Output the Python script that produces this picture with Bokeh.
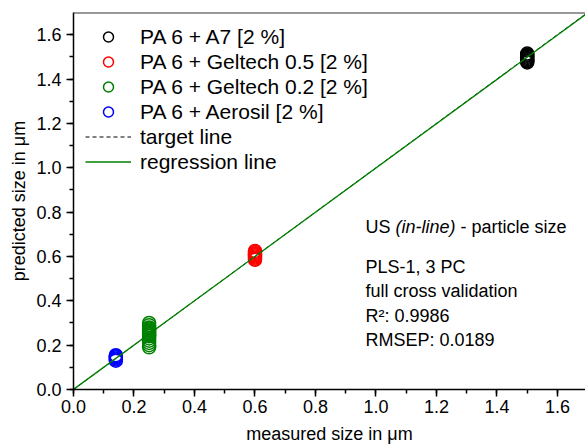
from bokeh.plotting import figure
from bokeh.models import Range1d, SingleIntervalTicker, Label, Span, Legend, LegendItem, PrintfTickFormatter
from bokeh.embed import file_html
from bokeh.resources import INLINE

# ---- data ----
a7_x = [1.5] * 9
a7_y = [1.475, 1.48, 1.485, 1.49, 1.495, 1.50, 1.505, 1.51, 1.515]

g05_x = [0.6] * 9
g05_y = [0.585, 0.59, 0.595, 0.60, 0.605, 0.61, 0.615, 0.62, 0.625]

g02_x = [0.25] * 16
g02_y = [0.19, 0.20, 0.21, 0.22, 0.23, 0.24, 0.245, 0.25, 0.255, 0.26,
         0.265, 0.27, 0.275, 0.28, 0.29, 0.30]

aer_x = [0.14] * 6
aer_y = [0.13, 0.135, 0.14, 0.145, 0.15, 0.155]

line_x = [0.0, 1.7]
target_y = [0.0, 1.7]
reg_slope = 0.9986
reg_intercept = 0.0005
reg_y = [reg_intercept + reg_slope * v for v in line_x]

series_names = ["PA 6 + A7 [2 %]", "PA 6 + Geltech 0.5 [2 %]",
                "PA 6 + Geltech 0.2 [2 %]", "PA 6 + Aerosil [2 %]"]
series_colors = ["#000000", "#ff0000", "#008000", "#0000ff"]

info_lines = ["PLS-1, 3 PC", "full cross validation", "R\u00b2: 0.9986", "RMSEP: 0.0189"]

FONT = "Liberation Sans"

p = figure(width=585, height=446, output_backend="svg", toolbar_location=None,
           x_range=Range1d(0, 1.6926), y_range=Range1d(0, 1.7),
           min_border_left=73, min_border_right=0, min_border_top=12, min_border_bottom=56)
p.grid.visible = False
p.outline_line_color = None
p.background_fill_color = "white"
p.border_fill_color = "white"

renderers = []
for xs, ys, c in [(a7_x, a7_y, series_colors[0]), (g05_x, g05_y, series_colors[1]),
                  (g02_x, g02_y, series_colors[2]), (aer_x, aer_y, series_colors[3])]:
    r = p.scatter(xs, ys, marker="circle", size=13, fill_color=None,
                  line_color=c, line_width=1.5)
    renderers.append(r)

r_target = p.line(line_x, target_y, line_color="black", line_dash="4 3", line_width=1)
r_reg = p.line(line_x, reg_y, line_color="#008000", line_width=1.3)

items = [LegendItem(label=n, renderers=[r]) for n, r in zip(series_names, renderers)]
items.append(LegendItem(label="target line", renderers=[r_target]))
items.append(LegendItem(label="regression line", renderers=[r_reg]))
legend = Legend(items=items, location="top_left", margin=12, padding=0,
                glyph_width=46, glyph_height=25, label_height=25, spacing=0,
                label_standoff=9, border_line_color=None, background_fill_alpha=0,
                label_text_font=FONT, label_text_font_size="21px", label_text_color="black")
p.add_layout(legend)

for ax in [p.xaxis[0], p.yaxis[0]]:
    ax.ticker = SingleIntervalTicker(interval=0.2, num_minor_ticks=2)
    ax.formatter = PrintfTickFormatter(format="%.1f")
    ax.major_tick_out = 7
    ax.major_tick_in = 0
    ax.minor_tick_out = 4
    ax.minor_tick_in = 0
    ax.axis_line_width = 1.5
    ax.axis_line_color = "black"
    ax.major_tick_line_color = "black"
    ax.minor_tick_line_color = "black"
    ax.major_tick_line_width = 1.5
    ax.minor_tick_line_width = 1.5
    ax.major_label_text_font = FONT
    ax.major_label_text_font_size = "18px"
    ax.major_label_text_color = "black"
    ax.axis_label_text_font = FONT
    ax.axis_label_text_font_size = "18px"
    ax.axis_label_text_font_style = "normal"
    ax.axis_label_text_color = "black"

p.xaxis.major_label_standoff = 3
p.yaxis.major_label_standoff = 5
p.xaxis.axis_label_standoff = 8
p.yaxis.axis_label_standoff = 4

p.xaxis.axis_label = "measured size in \u03bcm"
p.yaxis.axis_label = "predicted size in \u03bcm"

p.add_layout(Span(location=1.7, dimension="width", line_color="#333333", line_width=2))

tx = 0.965
p.add_layout(Label(x=tx, y=0.686, text="US", text_font=FONT, text_font_size="18px",
                   text_color="black"))
p.add_layout(Label(x=tx, y=0.686, x_offset=30, text="(in-line)", text_font=FONT,
                   text_font_size="18px", text_font_style="italic", text_color="black"))
p.add_layout(Label(x=tx, y=0.686, x_offset=95, text="- particle size", text_font=FONT,
                   text_font_size="18px", text_color="black"))
info_y = [0.507, 0.397, 0.287, 0.177]
for t, yy in zip(info_lines, info_y):
    p.add_layout(Label(x=tx, y=yy, text=t, text_font=FONT, text_font_size="18px",
                       text_color="black"))

open("out.html", "w").write(file_html(p, INLINE))
